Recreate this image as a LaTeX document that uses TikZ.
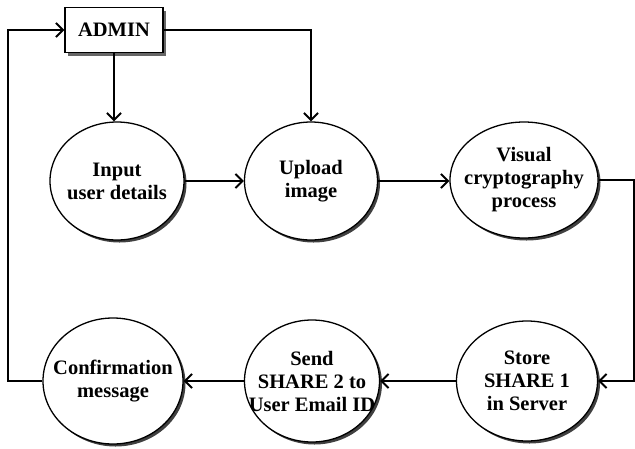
\documentclass[tikz,border=0pt]{standalone}
\usepackage{fontspec}
\setmainfont{Liberation Serif}
\usetikzlibrary{shapes.geometric,arrows.meta,shadows}
\begin{document}
\begin{tikzpicture}[x=1pt,y=-1pt,
  every node/.style={font=\fontsize{20.5}{23}\selectfont\bfseries, align=center},
  proc/.style={ellipse, draw, line width=1.3pt, fill=white, inner sep=0pt,
    drop shadow={shadow xshift=2.5pt, shadow yshift=-2.5pt, fill=black!75, opacity=1}},
  boxnode/.style={rectangle, draw, line width=1.3pt, fill=white, inner sep=0pt,
    minimum width=98pt, minimum height=45pt,
    drop shadow={shadow xshift=3pt, shadow yshift=-3pt, fill=black!60, opacity=1}},
  conn/.style={line width=1.3pt, -{Straight Barb[length=7pt,width=14pt,line width=2pt]}}]
\useasboundingbox (0,0) rectangle (635,448);
\fill[white] (0,0) rectangle (635,448);

\node[boxnode] (admin) at (114,30) {ADMIN};
\node[proc, minimum width=134pt, minimum height=118pt, label={[name=inputt]center:{Input\\user details}}] (input) at (117,181) {};
\node[proc, minimum width=133pt, minimum height=118pt, label={[name=uploadt]center:{Upload\\image}}] (upload) at (311,181) {};
\node[proc, minimum width=148pt, minimum height=116pt, label={[name=visualt]center:{Visual\\cryptography\\process}}] (visual) at (524,180) {};
\node[proc, minimum width=141pt, minimum height=120pt, label={[name=storet]center:{Store\\SHARE 1\\in Server}}] (store) at (527,381) {};
\node[proc, minimum width=135pt, minimum height=122pt, label={[name=sendt]center:{Send\\SHARE 2 to\\User Email ID}}] (send) at (312,381) {};
\node[proc, minimum width=140pt, minimum height=126pt, label={[name=conft]center:{Confirmation\\message}}] (conf) at (113,381) {};

\coordinate (rx) at (634,0);
\coordinate (lx) at (8,0);

\draw[conn] (admin.south) -- (admin.south |- input.north);
\draw[conn] (admin.east) -| (upload.north);
\draw[conn] (input.east) -- (upload.west);
\draw[conn] (upload.east) -- (upload.east -| visual.west);
\draw[conn] (visual.east) -- (visual.east -| rx) |- (store.east);
\draw[conn] (store.west) -- (send.east);
\draw[conn] (send.west) -- (conf.east);
\draw[conn] (conf.west) -- (conf.west -| lx) |- (admin.west);
\end{tikzpicture}
\end{document}
